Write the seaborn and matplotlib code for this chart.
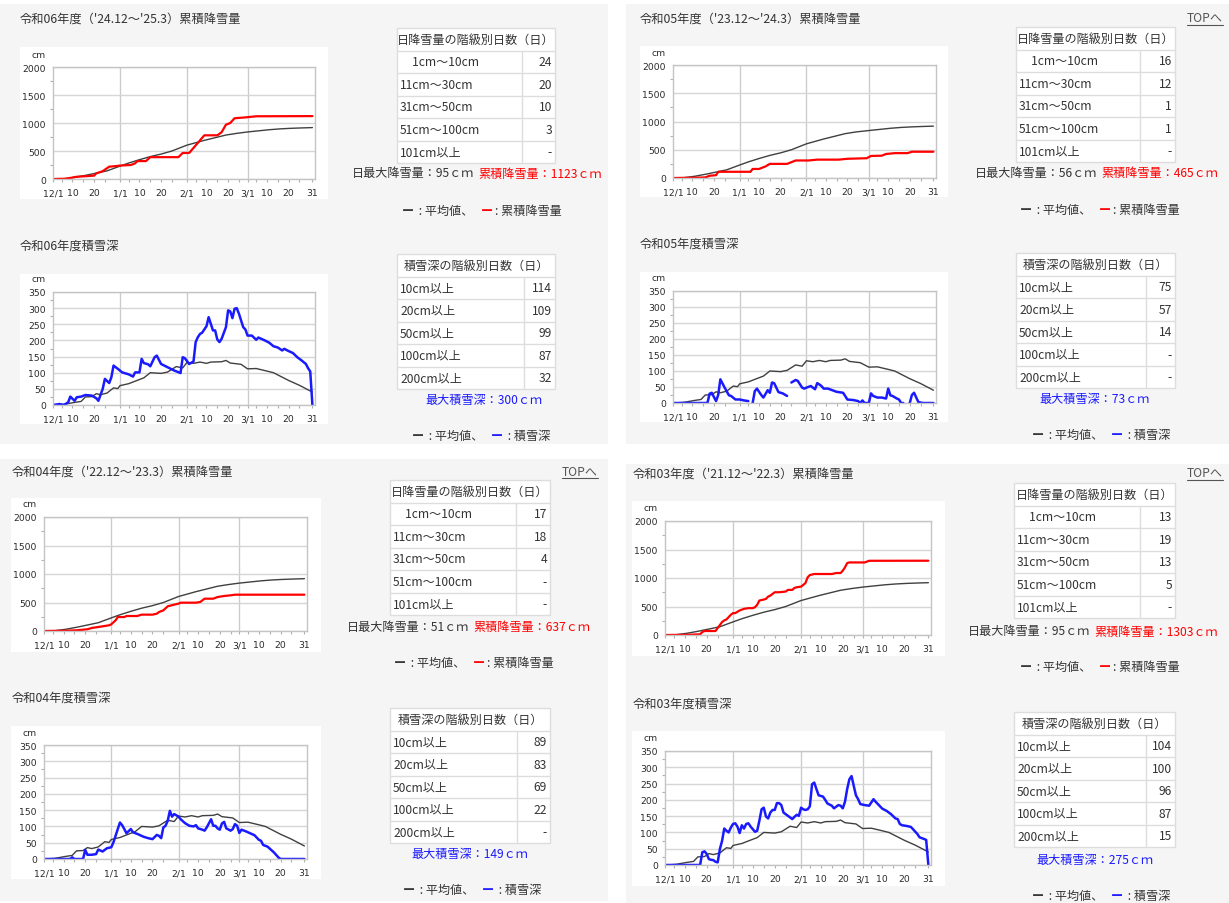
import matplotlib
matplotlib.use("Agg")
import matplotlib.pyplot as plt
from matplotlib.patches import Rectangle
from matplotlib.lines import Line2D
import pandas as pd
import seaborn as sns

# ---------------- data ----------------
TICK_DATES = ["12-01", "12-10", "12-20", "01-01", "01-10", "01-20",
              "02-01", "02-10", "02-20", "03-01", "03-10", "03-20", "03-31"]
TICK_LABELS = ["12/1", "10", "20", "1/1", "10", "20", "2/1", "10", "20", "3/1", "10", "20", "31"]
MONTH_STARTS = ["01-01", "02-01", "03-01"]
MINOR_DATES = ["12-05", "12-15", "12-25", "01-05", "01-15", "01-25",
               "02-05", "02-15", "02-25", "03-05", "03-15", "03-25"]

SNOW_CLASSES = ["\u30001cm～10cm", "11cm～30cm", "31cm～50cm", "51cm～100cm", "101cm以上"]
DEPTH_CLASSES = ["10cm以上", "20cm以上", "50cm以上", "100cm以上", "200cm以上"]

# 平均値 (days counted from 12/1, normal year)
AVG_CUM_DAY = [0, 5, 10, 15, 20, 25, 31, 35, 40, 45, 50, 55, 62, 70, 80, 85, 90, 95, 100, 105, 110, 115, 120]
AVG_CUM_CM = [0, 5, 30, 65, 105, 145, 230, 285, 345, 400, 445, 500, 605, 690, 785, 815, 840, 860, 880, 895,
              905, 912, 918]
AVG_DEPTH_DAY = [0, 5, 10, 13, 15, 18, 20, 22, 25, 28, 30, 31, 35, 40, 42, 45, 50, 53, 57, 60, 62, 65, 68, 71,
                 73, 78, 80, 82, 87, 90, 94, 99, 102, 109, 114, 120]
AVG_DEPTH_CM = [0, 2, 8, 11, 25, 26, 35, 32, 37, 53, 51, 60, 66, 79, 84, 100, 98, 102, 119, 115, 132, 129, 133,
                129, 133, 134, 138, 130, 126, 112, 113, 105, 100, 76, 61, 40]

# 令和06年度
R06_CUM_DAY = [0, 6, 11, 19, 20, 23, 26, 29, 31, 36, 38, 39, 43, 45, 58, 60, 63, 66, 70, 76, 78, 80, 82, 84,
               89, 94, 120]
R06_CUM_CM = [0, 5, 40, 60, 100, 140, 220, 230, 240, 250, 280, 320, 320, 390, 390, 465, 465, 600, 780, 780,
              835, 970, 1000, 1085, 1100, 1120, 1123]
R06_DEPTH_DAY = [0, 3, 5, 7, 8, 10, 11, 13, 15, 18, 20, 21, 23, 24, 26, 27, 28, 30, 32, 35, 37, 38, 40, 41, 42,
                 44, 45, 47, 48, 50, 53, 56, 59, 60, 61, 63, 65, 66, 67, 68, 69, 71, 72, 74, 75, 76, 77, 78, 80,
                 81, 82, 83, 84, 85, 86, 88, 89, 90, 92, 94, 95, 98, 100, 102, 104, 106, 107, 109, 111, 113,
                 115, 117, 118, 119, 120]
R06_DEPTH_CM = [0, 3, 0, 8, 26, 13, 24, 26, 31, 29, 21, 13, 50, 81, 68, 86, 122, 112, 101, 95, 88, 101, 101,
                143, 130, 126, 120, 148, 153, 127, 117, 107, 99, 148, 145, 127, 135, 195, 210, 220, 224, 244,
                272, 231, 231, 203, 195, 205, 241, 293, 290, 269, 298, 300, 283, 241, 234, 215, 215, 202, 209,
                200, 193, 182, 178, 169, 174, 167, 161, 148, 138, 127, 114, 104, 0]
R06_SNOW_DAYS = ["24", "20", "10", "3", "-"]
R06_DEPTH_DAYS = ["114", "109", "99", "87", "32"]

# 令和05年度 (leap year)
R05_CUM_DAY = [0, 10, 15, 17, 20, 21, 36, 37, 40, 43, 45, 53, 57, 63, 67, 77, 81, 90, 92, 97, 99, 103, 109,
               111, 121]
R05_CUM_CM = [0, 5, 10, 40, 50, 110, 110, 160, 160, 205, 250, 250, 310, 310, 325, 325, 340, 350, 390, 395, 425,
              440, 440, 465, 465]
R05_DEPTH_DAY = [0, 16, 17, 18, 20, 21, 22, 24, 26, 27, 29, 31, 33, 35, 36, 37, 38, 39, 41, 42, 44, 45, 46, 47,
                 49, 51, 53, 54, 55, 57, 58, 60, 61, 62, 64, 66, 67, 68, 69, 70, 72, 74, 76, 79, 80, 81, 84, 86,
                 87, 88, 89, 91, 92, 93, 95, 97, 99, 100, 101, 102, 104, 105, 106, 107, 108, 110, 111, 112,
                 114, 116, 121]
R05_DEPTH_CM = [0, 0, 29, 32, 6, 25, 74, 48, 24, 22, 11, 11, 8, 6, None, 0, 37, 45, 25, 17, 40, 32, 64, 62, 34,
                30, 22, None, 64, 72, 69, 48, 45, 48, 53, 43, 62, 58, 53, 45, 45, 40, 35, 32, 22, 11, 9, 6, 0,
                8, 0, 0, 30, 22, 17, 17, 14, 45, 24, 22, 14, 11, 0, 0, None, 0, 25, 32, 3, 0, 0]
R05_SNOW_DAYS = ["16", "12", "1", "1", "-"]
R05_DEPTH_DAYS = ["75", "57", "14", "-", "-"]

# 令和04年度
R04_CUM_DAY = [0, 10, 15, 20, 22, 25, 28, 30, 31, 33, 34, 37, 38, 43, 45, 50, 52, 53, 55, 57, 60, 62, 63, 70,
               72, 74, 78, 80, 83, 86, 88, 120]
R04_CUM_CM = [0, 5, 12, 30, 53, 70, 88, 100, 117, 187, 245, 245, 263, 263, 287, 287, 304, 333, 362, 433, 462,
              480, 497, 497, 509, 567, 567, 596, 614, 626, 637, 637]
R04_DEPTH_DAY = [0, 12, 13, 14, 18, 19, 20, 22, 24, 25, 27, 29, 31, 32, 34, 35, 36, 37, 38, 40, 41, 43, 46, 48,
                 50, 52, 53, 54, 55, 56, 57, 58, 59, 60, 62, 63, 65, 67, 69, 70, 71, 73, 74, 75, 77, 78, 79, 80,
                 81, 82, 83, 84, 86, 87, 88, 89, 90, 91, 93, 95, 97, 99, 100, 101, 103, 105, 106, 108, 109, 120]
R04_DEPTH_CM = [0, 0, 5, 0, 0, 28, 13, 13, 15, 29, 23, 33, 36, 51, 92, 112, 104, 92, 79, 92, 82, 77, 68, 64, 61,
                74, 71, 64, 97, 102, 117, 148, 130, 138, 130, 122, 110, 102, 100, 104, 94, 90, 87, 97, 122, 102,
                102, 94, 90, 109, 114, 94, 87, 92, 107, 102, 80, 90, 85, 79, 73, 59, 56, 43, 38, 26, 20, 5, 0, 0]
R04_SNOW_DAYS = ["17", "18", "4", "-", "-"]
R04_DEPTH_DAYS = ["89", "83", "69", "22", "-"]

# 令和03年度
R03_CUM_DAY = [0, 10, 16, 17, 18, 23, 24, 26, 27, 28, 29, 30, 31, 32, 34, 36, 38, 40, 41, 42, 43, 45, 46, 47,
               48, 49, 50, 52, 55, 56, 58, 59, 60, 62, 63, 64, 65, 66, 68, 76, 78, 80, 81, 82, 83, 84, 91, 93, 120]
R03_CUM_CM = [0, 3, 12, 52, 70, 70, 122, 227, 256, 273, 314, 355, 384, 384, 430, 459, 471, 471, 488, 529, 605,
              622, 634, 674, 692, 721, 750, 750, 762, 791, 791, 826, 837, 849, 878, 913, 1012, 1052, 1070, 1070,
              1087, 1087, 1128, 1186, 1262, 1273, 1273, 1302, 1303]
R03_DEPTH_DAY = [0, 16, 17, 18, 19, 20, 21, 22, 23, 24, 25, 26, 27, 28, 29, 30, 31, 32, 33, 34, 35, 36, 37, 38,
                 39, 41, 42, 43, 44, 45, 46, 47, 48, 49, 50, 51, 52, 53, 54, 55, 57, 58, 59, 60, 61, 62, 63, 64,
                 65, 66, 67, 68, 69, 70, 72, 73, 74, 76, 77, 79, 80, 81, 82, 83, 84, 85, 86, 87, 88, 89, 91, 93,
                 95, 96, 97, 99, 101, 103, 105, 106, 107, 108, 110, 112, 113, 115, 116, 118, 119, 120]
R03_DEPTH_CM = [0, 0, 39, 42, 34, 18, 16, 15, 10, 8, 49, 74, 112, 105, 100, 115, 126, 128, 118, 98, 122, 112,
                126, 128, 118, 102, 105, 136, 171, 176, 149, 143, 161, 169, 169, 190, 190, 184, 161, 156, 146,
                141, 148, 154, 151, 176, 171, 169, 171, 180, 248, 253, 233, 214, 210, 200, 189, 182, 174, 184,
                182, 174, 194, 233, 263, 273, 243, 214, 202, 187, 184, 182, 202, 194, 187, 173, 166, 156, 143,
                141, 126, 122, 120, 117, 110, 95, 85, 80, 77, 0]
R03_SNOW_DAYS = ["13", "19", "13", "5", "-"]
R03_DEPTH_DAYS = ["104", "100", "96", "87", "15"]

SEASONS = [
    dict(name="令和06年度", span="（'24.12～'25.3）", start=2024, cum=(R06_CUM_DAY, R06_CUM_CM),
         depth=(R06_DEPTH_DAY, R06_DEPTH_CM), snow_days=R06_SNOW_DAYS, depth_days=R06_DEPTH_DAYS,
         max_daily=95, total=1123, max_depth=300),
    dict(name="令和05年度", span="（'23.12～'24.3）", start=2023, cum=(R05_CUM_DAY, R05_CUM_CM),
         depth=(R05_DEPTH_DAY, R05_DEPTH_CM), snow_days=R05_SNOW_DAYS, depth_days=R05_DEPTH_DAYS,
         max_daily=56, total=465, max_depth=73),
    dict(name="令和04年度", span="（'22.12～'23.3）", start=2022, cum=(R04_CUM_DAY, R04_CUM_CM),
         depth=(R04_DEPTH_DAY, R04_DEPTH_CM), snow_days=R04_SNOW_DAYS, depth_days=R04_DEPTH_DAYS,
         max_daily=51, total=637, max_depth=149),
    dict(name="令和03年度", span="（'21.12～'22.3）", start=2021, cum=(R03_CUM_DAY, R03_CUM_CM),
         depth=(R03_DEPTH_DAY, R03_DEPTH_CM), snow_days=R03_SNOW_DAYS, depth_days=R03_DEPTH_DAYS,
         max_daily=95, total=1303, max_depth=275),
]

# pixel layout of the four screenshots
LAYOUT = [
    dict(panel=(0, 5, 608, 445), title=(20, 19), cum_white=(20, 48, 328, 200), cum_ax=(53, 68, 315, 180),
         cum_table=(397, 29, 555, 522), stats=(352, 174), legend1=(402, 211), depth_title=(20, 246),
         depth_white=(20, 275, 328, 425), depth_ax=(53, 293, 315, 406), depth_table=(397, 255, 555, 524),
         maxdepth=(484, 400), legend2=(412, 436), top=None),
    dict(panel=(626, 5, 1229, 445), title=(640, 19), cum_white=(640, 47, 948, 198), cum_ax=(673, 66, 936, 179),
         cum_table=(1016, 28, 1175, 1140), stats=(975, 173), legend1=(1020, 210), depth_title=(640, 244),
         depth_white=(640, 273, 948, 423), depth_ax=(673, 292, 936, 404), depth_table=(1016, 254, 1175, 1146),
         maxdepth=(1095, 399), legend2=(1032, 435), top=(1187, 19)),
    dict(panel=(0, 460, 608, 902), title=(12, 472), cum_white=(11, 499, 321, 653), cum_ax=(44, 518, 307, 632),
         cum_table=(390, 481, 550, 516), stats=(347, 627), legend1=(394, 663), depth_title=(12, 698),
         depth_white=(11, 727, 321, 880), depth_ax=(44, 746, 307, 860), depth_table=(390, 709, 550, 517),
         maxdepth=(470, 854), legend2=(403, 890), top=(562, 472)),
    dict(panel=(626, 465, 1229, 904), title=(633, 474), cum_white=(632, 502, 945, 657), cum_ax=(665, 522, 931, 636),
         cum_table=(1014, 484, 1175, 1140), stats=(968, 632), legend1=(1020, 667), depth_title=(633, 704),
         depth_white=(632, 732, 945, 887), depth_ax=(665, 752, 931, 866), depth_table=(1014, 713, 1175, 1146),
         maxdepth=(1095, 860), legend2=(1032, 896), top=(1187, 474)),
]

TEXT = "#333333"
RED = "#ff0000"
BLUE = "#1a1aff"
AVG = "#404040"
PANEL = "#f5f5f5"
BORDER = "#dddddd"

sns.set_theme(style="white")
plt.rcParams["font.family"] = ["Noto Sans CJK JP", "DejaVu Sans"]

W, H = 1229, 904
fig = plt.figure(figsize=(W / 100, H / 100), dpi=100, facecolor="white")


def fx(x):
    return x / W


def fy(y):
    return 1 - y / H


def rect(x0, y0, x1, y1, fc, ec="none", lw=0.0, z=-2):
    fig.add_artist(Rectangle((fx(x0), fy(y1)), (x1 - x0) / W, (y1 - y0) / H, transform=fig.transFigure,
                             facecolor=fc, edgecolor=ec, linewidth=lw, zorder=z))


def line(xs, ys, color=BORDER, lw=1.0):
    fig.add_artist(Line2D([fx(x) for x in xs], [fy(y) for y in ys], transform=fig.transFigure,
                          color=color, lw=lw, zorder=1))


def text(x, y, s, **kw):
    kw.setdefault("color", TEXT)
    kw.setdefault("fontsize", 8.7)
    kw.setdefault("va", "center")
    return fig.text(fx(x), fy(y), s, **kw)


def runs(x, y, parts):
    r = fig.canvas.get_renderer()
    for s, c, gap in parts:
        t = text(x, y, s, color=c, fontweight="bold" if s == "ー" else "normal")
        x += t.get_window_extent(r).width + gap


def season_day(start, mmdd):
    m, d = int(mmdd[:2]), int(mmdd[3:])
    yr = start if m == 12 else start + 1
    return (pd.Timestamp(yr, m, d) - pd.Timestamp(start, 12, 1)).days


def table(box, header, labels, values):
    x0, y0, x1, split = box
    rh = 22.5
    n = len(labels) + 1
    y1 = y0 + rh * n
    rect(x0, y0, x1, y1, "white", BORDER, 1.0, z=0)
    for i in range(1, n):
        line([x0, x1], [y0 + rh * i] * 2)
    line([split, split], [y0 + rh, y1])
    text((x0 + x1) / 2, y0 + rh / 2, header, ha="center")
    for i, (lab, val) in enumerate(zip(labels, values)):
        yc = y0 + rh * (i + 1.5)
        text(x0 + 3, yc, lab, ha="left")
        text(x1 - 3, yc, val, ha="right")


def chart(box, start, ymax, ystep, avg, series, color, lw):
    x0, y0, x1, y1 = box
    ax = fig.add_axes([fx(x0), fy(y1), (x1 - x0) / W, (y1 - y0) / H])
    ax.set_facecolor("white")
    leap = season_day(start, "03-01") == 91
    avg_df = pd.DataFrame({"day": [d + 1 if (leap and d >= 90) else d for d in avg[0]], "cm": avg[1]})

    rows, seg = [], 0
    for d, v in zip(*series):
        if v is None:
            seg += 1
            continue
        rows.append((d, v, seg))
    df = pd.DataFrame(rows, columns=["day", "cm", "seg"])

    for m in MONTH_STARTS:
        ax.axvline(season_day(start, m), color="#cccccc", lw=1.0, zorder=0)
    sns.lineplot(data=avg_df, x="day", y="cm", estimator=None, color=AVG, lw=1.0, ax=ax)
    sns.lineplot(data=df, x="day", y="cm", units="seg", estimator=None, color=color, lw=lw, ax=ax)

    end = season_day(start, "03-31")
    ax.set_xlim(0, end + 1.2)
    ax.set_ylim(0, ymax)
    ax.set_xticks([season_day(start, t) for t in TICK_DATES])
    ax.set_xticklabels(TICK_LABELS)
    ax.set_xticks([season_day(start, t) for t in MINOR_DATES], minor=True)
    ax.set_yticks(list(range(0, ymax + 1, ystep)))
    ax.set_yticks([v + ystep / 2 for v in range(0, ymax, ystep)], minor=True)
    ax.yaxis.grid(True, which="major", color="#d6d6d6", lw=1.0)
    ax.set_axisbelow(True)
    ax.set_xlabel("")
    ax.set_ylabel("")
    for s in ax.spines.values():
        s.set_color("#c4c4c4")
        s.set_linewidth(1.0)
    ax.tick_params(axis="x", which="both", bottom=True, length=2.5, width=0.8, color="#b0b0b0",
                   pad=4.2, labelsize=6.7, labelcolor="#2b2b2b")
    ax.tick_params(axis="y", which="major", left=True, length=0, pad=5.2, labelsize=6.7, labelcolor="#2b2b2b")
    ax.tick_params(axis="y", which="minor", left=True, length=2, width=0.8, color="#b0b0b0")
    for lab in ax.get_xticklabels() + ax.get_yticklabels():
        lab.set_family("DejaVu Sans")
    ax.annotate("cm", xy=(0, 1), xycoords="axes fraction", xytext=(-14, 13), textcoords="offset pixels",
                ha="center", va="center", fontsize=6.7, color="#2b2b2b", family="DejaVu Sans")
    return ax


for s, L in zip(SEASONS, LAYOUT):
    rect(*L["panel"], PANEL)
    rect(*L["cum_white"], "white", z=-1)
    rect(*L["depth_white"], "white", z=-1)

    text(*L["title"], s["name"] + s["span"] + "累積降雪量", fontsize=8.8)
    text(*L["depth_title"], s["name"] + "積雪深", fontsize=8.8)
    if L["top"] is not None:
        tx, ty = L["top"]
        t = text(tx, ty, "TOPへ", color="#555555")
        w = t.get_window_extent(fig.canvas.get_renderer()).width
        line([tx, tx + w], [ty + 7, ty + 7], color="#555555", lw=0.8)

    chart(L["cum_ax"], s["start"], 2000, 500, (AVG_CUM_DAY, AVG_CUM_CM), s["cum"], RED, 1.6)
    chart(L["depth_ax"], s["start"], 350, 50, (AVG_DEPTH_DAY, AVG_DEPTH_CM), s["depth"], BLUE, 1.8)

    table(L["cum_table"], "日降雪量の階級別日数（日）", SNOW_CLASSES, s["snow_days"])
    table(L["depth_table"], "積雪深の階級別日数（日）", DEPTH_CLASSES, s["depth_days"])

    runs(*L["stats"], [(f"日最大降雪量：{s['max_daily']}ｃｍ", TEXT, 4),
                       (f"累積降雪量：{s['total']}ｃｍ", RED, 0)])
    text(*L["maxdepth"], f"最大積雪深：{s['max_depth']}ｃｍ", color=BLUE, ha="center")
    runs(*L["legend1"], [("ー", TEXT, 2), (" : 平均値、", TEXT, 7), ("ー", RED, 2), (": 累積降雪量", TEXT, 0)])
    runs(*L["legend2"], [("ー", TEXT, 2), (" : 平均値、", TEXT, 7), ("ー", BLUE, 2), (" : 積雪深", TEXT, 0)])

fig.savefig("out.png", dpi=100, facecolor="white")
